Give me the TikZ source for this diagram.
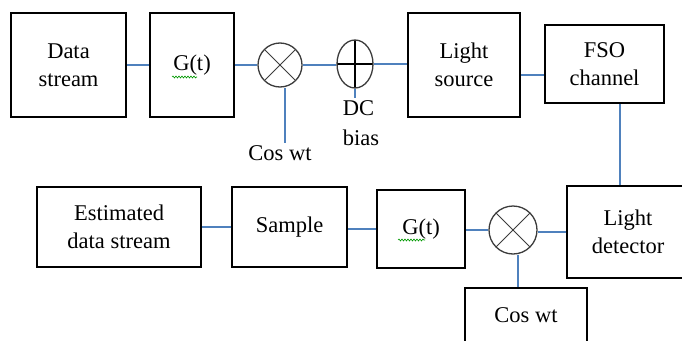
\documentclass[tikz,border=0pt]{standalone}
\usepackage{fontspec}
\setmainfont{LiberationSerif}[Extension=.ttf, UprightFont=*-Regular, BoldFont=*-Bold]
\usepackage{tikz}
\usetikzlibrary{shapes.geometric, decorations.pathmorphing}
\definecolor{wire}{HTML}{4F81BD}
\definecolor{ring}{HTML}{3C3C3C}

\begin{document}
\begin{tikzpicture}[
		x=1pt, y=-1pt,
		blk/.style={draw, line width=1.5pt, align=center, inner sep=0pt, font=\fontsize{22.5}{28}\selectfont},
		lbl/.style={align=left, inner sep=2pt, font=\fontsize{22.5}{30}\selectfont},
		mixer/.style={circle, draw=ring, line width=1.3pt, minimum size=44pt, inner sep=0pt,
			path picture={\draw[ring, line width=1pt]
				(path picture bounding box.north west) -- (path picture bounding box.south east)
				(path picture bounding box.south west) -- (path picture bounding box.north east);}},
		adder/.style={ellipse, draw=ring, line width=1.3pt, minimum width=36pt, minimum height=48pt, inner sep=0pt,
			path picture={\draw[black, line width=1.2pt]
				(path picture bounding box.north) -- (path picture bounding box.south)
				(path picture bounding box.west) -- (path picture bounding box.east);}},
		sig/.style={wire, line width=1.2pt},
		spell/.style={green!60!black, line width=0.6pt, decorate, decoration={snake, amplitude=1pt, segment length=3pt}}
	]
		\fill[white] (0,0) rectangle (682,340);
		\useasboundingbox (0,0) rectangle (682,340);

		% ===== TOP: transmitter =====
		\node[blk, minimum width=115pt, minimum height=104pt] (data) at (68.5,65) {Data\\stream};
		\node[blk, minimum width=84pt, minimum height=104pt] (gt1) at (192,65) {G(t)};
		\node[mixer] (mix1) at (280,65) {};
		\node[lbl] (cos1) at (280,153) {Cos wt};
		\node[adder] (add) at (355,64) {};
		\node[lbl] (dc) at (361,123) {DC\\bias};
		\node[blk, minimum width=112pt, minimum height=104pt] (lsrc) at (464,65) {Light\\source};
		\node[blk, minimum width=119pt, minimum height=78pt] (fso) at (604.5,64) {FSO\\channel};

		% spell-check squiggle
		\draw[spell] ([xshift=-20pt,yshift=-12pt]gt1.center) -- ([xshift=5pt,yshift=-12pt]gt1.center);

		\draw[sig] (data.east) -- (data.east -| gt1.west);
		\draw[sig] (gt1.east) -- (gt1.east -| mix1.west);
		\draw[sig] ([xshift=5pt]mix1.south) -- ([xshift=5pt]mix1.south |- cos1.north);
		\draw[sig] (mix1.east) -- (mix1.east -| add.west);
		\draw[sig] (add.south) -- (add.south |- dc.north);
		\draw[sig] (add.east) -- (add.east -| lsrc.west);
		\draw[sig] ([yshift=-10pt]lsrc.east) -- ([yshift=-10pt]lsrc.east -| fso.west);

		% ===== BOTTOM: receiver =====
		\node[blk, minimum width=164pt, minimum height=80pt] (est) at (119,227) {Estimated\\data stream};
		\node[blk, minimum width=115pt, minimum height=80pt] (sample) at (289.5,227) {Sample};
		\node[blk, minimum width=88pt, minimum height=78pt] (gt2) at (421,229) {G(t)};
		\node[mixer, minimum size=48pt] (mix2) at (513,230) {};
		\node[blk, minimum width=122pt, minimum height=92pt] (det) at (628,232) {Light\\detector};
		\node[blk, minimum width=122pt, minimum height=54pt] (cos2) at (526,315) {Cos wt};

		\draw[spell] ([xshift=-23pt,yshift=-11pt]gt2.center) -- ([xshift=4pt,yshift=-11pt]gt2.center);

		\draw[sig] ([xshift=15.5pt]fso.south) -- ([xshift=15.5pt]fso.south |- det.north);
		\draw[sig] (det.west) -- (det.west -| mix2.east);
		\draw[sig] ([xshift=5pt]mix2.south) -- ([xshift=5pt]mix2.south |- cos2.north);
		\draw[sig] (mix2.west) -- (mix2.west -| gt2.east);
		\draw[sig] (gt2.west) -- (gt2.west -| sample.east);
		\draw[sig] (sample.west) -- (sample.west -| est.east);
	\end{tikzpicture}
\end{document}
